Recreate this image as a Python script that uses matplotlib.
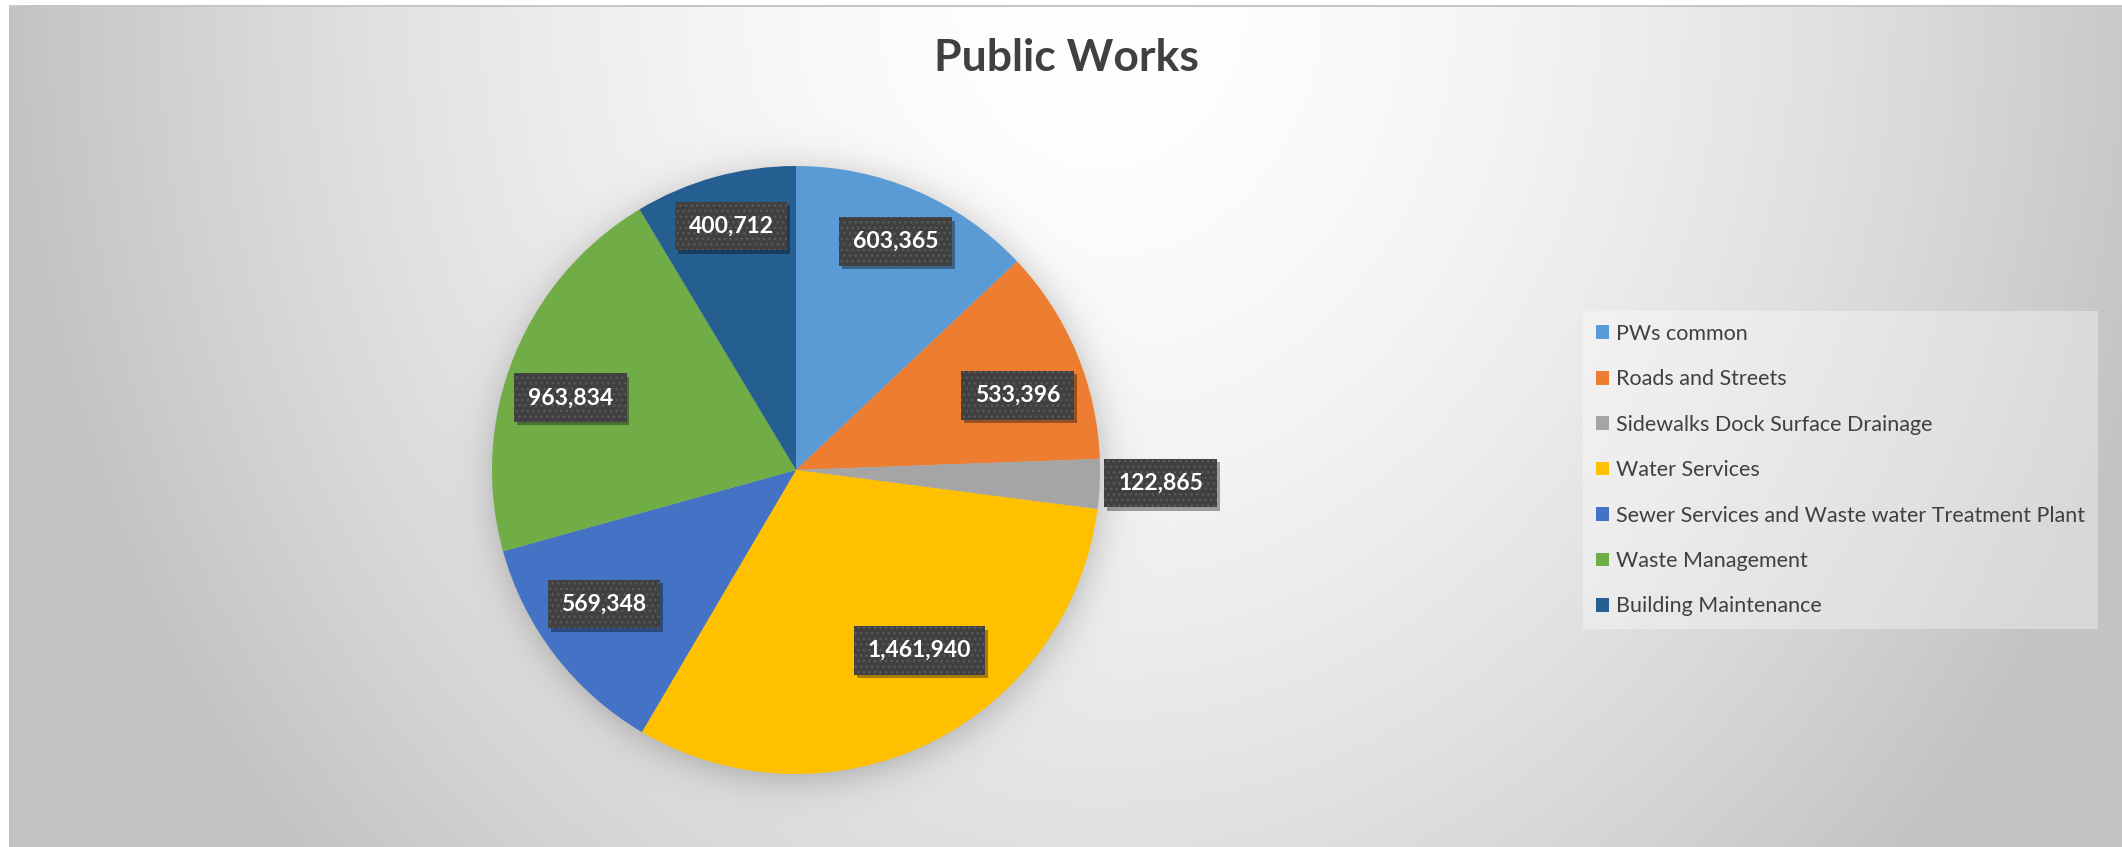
import numpy as np
import matplotlib
matplotlib.use("Agg")
import matplotlib.pyplot as plt
import matplotlib.patheffects as pe

# Budget by division
categories = ["PWs common", "Roads and Streets", "Sidewalks Dock Surface Drainage",
              "Water Services", "Sewer Services and Waste water Treatment Plant",
              "Waste Management", "Building Maintenance"]
amounts = [603365, 533396, 122865, 1461940, 569348, 963834, 400712]
colors = ["#5B9BD5", "#ED7D31", "#A5A5A5", "#FFC000", "#4472C4", "#70AD47", "#255E91"]
title = "Public Works"

W, H, DPI = 2122, 847, 100
FONT = "Lato"
TEXT_DARK = "#404040"

fig = plt.figure(figsize=(W / DPI, H / DPI), dpi=DPI, facecolor="white")

# ---- radial grey background with a soft shadow under the pie ----
pie_cx, pie_cy, pie_r = 796, 470, 304          # pixels, y measured from the top
yy, xx = np.mgrid[0:H, 0:W].astype(float)
dist = np.sqrt(((xx - 1100) / 1100) ** 2 + (yy / 1275) ** 2)
val = 1 - 0.24 * dist ** 1.69
val = np.clip(val, 0.765, 1.0)
rr = np.hypot(xx - pie_cx - 2, yy - pie_cy - 4)
val = val - 0.22 / (1 + np.exp((rr - pie_r) / 11))
rgb = np.dstack([val] * 3)
rgb[:5, :] = 1.0
rgb[:, :9] = 1.0
rgb[5:7, 9:] = 0.78
bg = fig.add_axes([0, 0, 1, 1])
bg.imshow(np.clip(rgb, 0, 1), extent=(0, W, H, 0), aspect="auto", interpolation="bilinear")
bg.axis("off")

# ---- pie ----
ax = fig.add_axes([(pie_cx - pie_r) / W, (H - pie_cy - pie_r) / H, 2 * pie_r / W, 2 * pie_r / H])
wedges, _ = ax.pie(amounts, colors=colors, startangle=90, counterclock=False,
                   radius=1, wedgeprops=dict(linewidth=0))
ax.set_xlim(-1, 1)
ax.set_ylim(-1, 1)

# data labels: radial distance and small angular nudge for each wedge
label_r = [0.82, 0.77, 1.20, 0.72, 0.77, 0.78, 0.83]
label_dtheta = [-0.3, -4.1, 0.6, 8.3, -2.6, 4.0, -0.6]
box_shadow = pe.withSimplePatchShadow(offset=(2, -2.5), shadow_rgbFace="black",
                                      alpha=0.35, hatch=None)
for w, v, r, dt in zip(wedges, amounts, label_r, label_dtheta):
    ang = np.deg2rad((w.theta1 + w.theta2) / 2 + dt)
    x, y = r * np.cos(ang), r * np.sin(ang)
    t = ax.text(x, y, f"{v:,}", ha="center", va="center", fontsize=16.5,
                fontweight="bold", family=FONT, color="white",
                bbox=dict(boxstyle="square,pad=0.6", fc="#404040", ec="#5a5a5a",
                          lw=0, hatch="..."))
    t.get_bbox_patch().set_path_effects([box_shadow])

# ---- title ----
fig.text(1066 / W, 1 - 71 / H, title, ha="center", va="baseline", fontsize=32,
         fontweight="bold", color=TEXT_DARK, family=FONT)

# ---- legend ----
leg = fig.legend(wedges, categories, loc="upper left",
                 bbox_to_anchor=(1583 / W, 1 - 311 / H),
                 frameon=True, fancybox=False, facecolor="white", framealpha=0.35,
                 edgecolor="none", prop=dict(family=FONT, size=15.5),
                 labelcolor=TEXT_DARK, handlelength=0.6, handleheight=0.6,
                 handletextpad=0.35, labelspacing=1.18, borderpad=0.6,
                 borderaxespad=0)
leg.get_frame().set_linewidth(0)

fig.savefig("out.png", dpi=DPI, facecolor="white")
